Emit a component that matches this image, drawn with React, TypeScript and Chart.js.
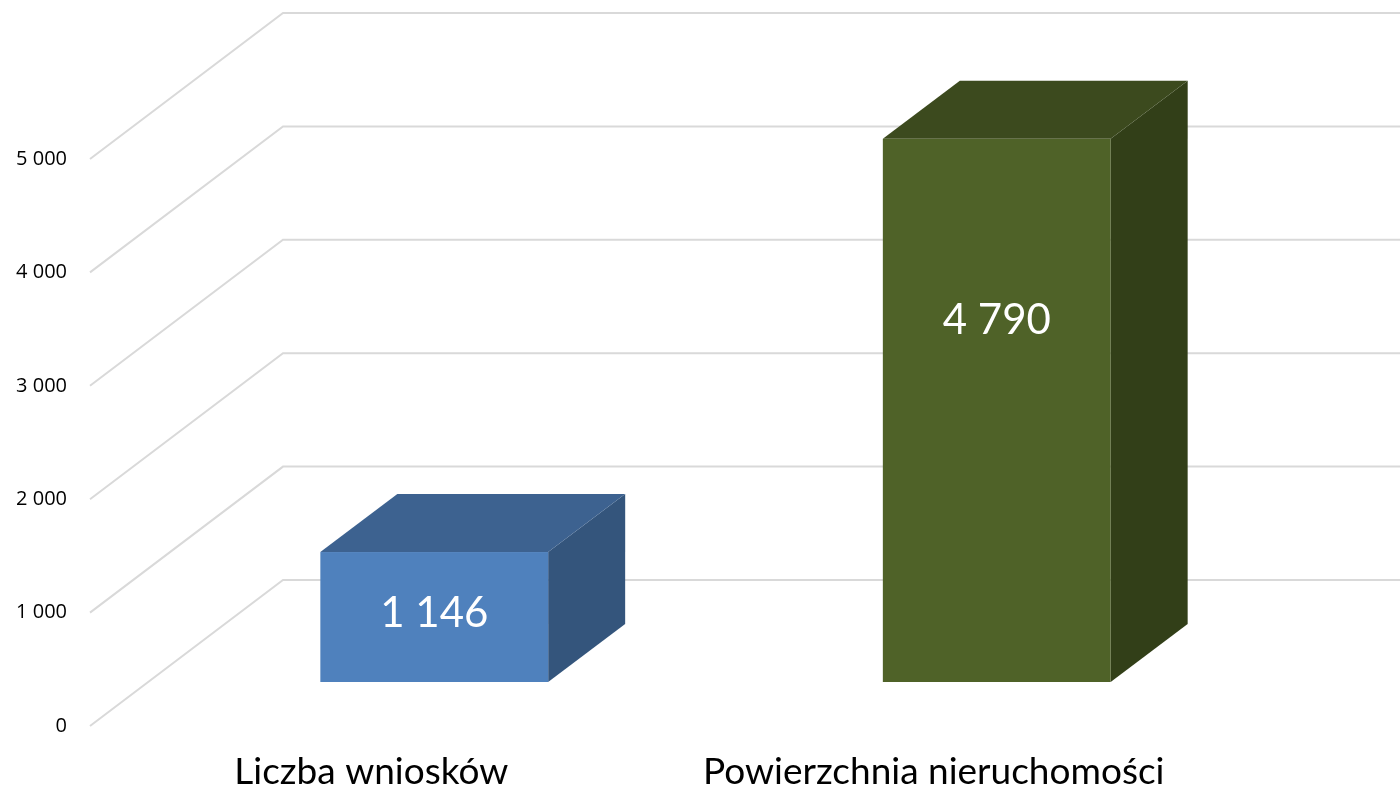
import React, { useEffect, useRef } from "react";
import { Chart, registerables } from "chart.js";

Chart.register(...registerables);

const categories = ["Liczba wniosków", "Powierzchnia nieruchomości"];
const values = [1146, 4790];
const yTicks = [0, 1000, 2000, 3000, 4000, 5000];

const FRONT = ["#4F81BD", "#4F6228"];
const TOP = ["#3D6290", "#3C4A1E"];
const SIDE = ["#34557C", "#323F18"];

const WALL_DX = 193;
const WALL_DY = -146;
const BAR_SX = 63;
const BAR_SY = -44;
const BAR_DX = 77;
const BAR_DY = -58;

const LABEL_FONT = "Lato";

const fmt = (v: number) =>
  Math.round(v)
    .toString()
    .replace(/\B(?=(\d{3})+(?!\d))/g, " ");

const wallPlugin = {
  id: "wall3d",
  beforeDatasetsDraw(chart: any) {
    const { ctx, chartArea, scales } = chart;
    const y = scales.y;
    ctx.save();
    ctx.strokeStyle = "#d9d9d9";
    ctx.lineWidth = 2;
    for (const t of yTicks) {
      const py = y.getPixelForValue(t);
      ctx.beginPath();
      ctx.moveTo(chartArea.left, py);
      ctx.lineTo(chartArea.left + WALL_DX, py + WALL_DY);
      ctx.lineTo(chart.width, py + WALL_DY);
      ctx.stroke();
    }
    ctx.restore();
  },
  afterDatasetsDraw(chart: any) {
    const { ctx } = chart;
    const meta = chart.getDatasetMeta(0);
    ctx.save();
    meta.data.forEach((el: any, i: number) => {
      const { x, y, base, width } = el.getProps(["x", "y", "base", "width"], true);
      const left = x - width / 2 + BAR_SX;
      const right = x + width / 2 + BAR_SX;
      const top = y + BAR_SY;
      const bottom = base + BAR_SY;
      // side
      ctx.fillStyle = SIDE[i];
      ctx.beginPath();
      ctx.moveTo(right, top);
      ctx.lineTo(right + BAR_DX, top + BAR_DY);
      ctx.lineTo(right + BAR_DX, bottom + BAR_DY);
      ctx.lineTo(right, bottom);
      ctx.closePath();
      ctx.fill();
      // top
      ctx.fillStyle = TOP[i];
      ctx.beginPath();
      ctx.moveTo(left, top);
      ctx.lineTo(left + BAR_DX, top + BAR_DY);
      ctx.lineTo(right + BAR_DX, top + BAR_DY);
      ctx.lineTo(right, top);
      ctx.closePath();
      ctx.fill();
      // front
      ctx.fillStyle = FRONT[i];
      ctx.fillRect(left, top, right - left, bottom - top);
      // label
      const ly = Math.min((top + bottom) / 2 - 4, top + 182);
      ctx.fillStyle = "#ffffff";
      ctx.font = `42px ${LABEL_FONT}`;
      ctx.textAlign = "center";
      ctx.textBaseline = "middle";
      ctx.fillText(fmt(values[i]), (left + right) / 2, ly);
    });
    ctx.restore();
  },
};

export default function App() {
  const ref = useRef<HTMLCanvasElement | null>(null);
  useEffect(() => {
    if (!ref.current) return;
    const chart = new Chart(ref.current, {
      type: "bar",
      data: {
        labels: categories,
        datasets: [
          {
            data: values,
            backgroundColor: "rgba(0,0,0,0)",
            borderWidth: 0,
            barPercentage: 0.405,
            categoryPercentage: 1,
          },
        ],
      },
      options: {
        animation: false,
        responsive: true,
        maintainAspectRatio: false,
        events: [],
        layout: { padding: { left: 0, right: 185, top: 159, bottom: 0 } },
        plugins: { legend: { display: false }, tooltip: { enabled: false } },
        scales: {
          x: {
            grid: { display: false, drawTicks: false },
            border: { display: false },
            ticks: {
              color: "#000000",
              font: { family: LABEL_FONT, size: 37 },
              padding: 24,
              maxRotation: 0,
              autoSkip: false,
            },
            afterFit(scale: any) {
              scale.height = 65;
            },
          },
          y: {
            min: 0,
            max: 5000,
            grid: { display: false, drawTicks: false },
            border: { display: false },
            ticks: {
              stepSize: 1000,
              color: "#000000",
              font: { family: "Open Sans", size: 20 },
              padding: 23,
              callback: (v: any) => fmt(Number(v)),
            },
            afterFit(scale: any) {
              scale.width = 90;
            },
          },
        },
      },
      plugins: [wallPlugin],
    });
    return () => chart.destroy();
  }, []);
  return (
    <div style={{ position: "fixed", left: 0, top: 0, width: 1400, height: 791, background: "#ffffff" }}>
      <canvas ref={ref} />
    </div>
  );
}
